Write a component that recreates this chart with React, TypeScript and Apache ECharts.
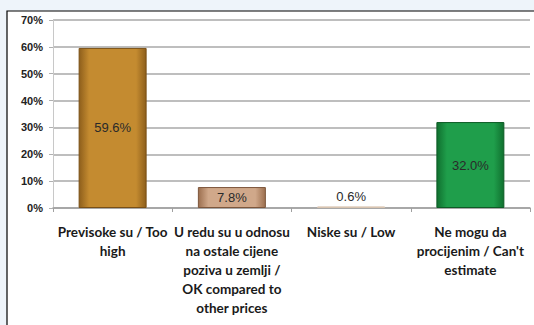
import React, { useEffect, useRef } from "react";
import * as echarts from "echarts";

const categories = [
  "Previsoke su / Too\nhigh",
  "U redu su u odnosu\nna ostale cijene\npoziva u zemlji /\nOK compared to\nother prices",
  "Niske su / Low",
  "Ne mogu da\nprocijenim / Can't\nestimate",
];
const values = [59.6, 7.8, 0.6, 32.0];
const yTicks = [0, 10, 20, 30, 40, 50, 60, 70];

const grad = (edge: string, mid: string) =>
  new echarts.graphic.LinearGradient(0, 0, 1, 0, [
    { offset: 0, color: edge },
    { offset: 0.15, color: mid },
    { offset: 0.85, color: mid },
    { offset: 1, color: edge },
  ]);

export default function App() {
  const ref = useRef<HTMLDivElement>(null);
  useEffect(() => {
    document.body.style.margin = "0";
    const chart = echarts.init(ref.current!, null, { renderer: "svg" });
    const styles = [
      { color: grad("#8e5f1c", "#c48b30"), borderColor: "#7a4f14" },
      { color: grad("#9c6f4f", "#d0a88a"), borderColor: "#7d563b" },
      { color: "#e8d8c8", borderColor: "#d8c4b0" },
      { color: grad("#10702f", "#1f9e4b"), borderColor: "#0c5c25" },
    ];
    const positions = ["inside", "inside", "top", "inside"];
    chart.setOption({
      animation: false,
      backgroundColor: "#eef4fa",
      graphic: [
        {
          type: "rect",
          shape: { x: 7, y: 11, width: 540, height: 330 },
          style: { fill: "#ffffff", stroke: "#000000", lineWidth: 1.2 },
          z: -10,
        },
      ],
      grid: { left: 53, right: 4, top: 20, bottom: 117 },
      xAxis: {
        type: "category",
        data: categories,
        axisLine: { show: true, lineStyle: { color: "#a0a0a0", width: 1.5 } },
        axisTick: { show: true, length: 4, lineStyle: { color: "#a0a0a0" } },
        axisLabel: {
          interval: 0,
          color: "#1a1a1a",
          fontFamily: "Lato",
          fontSize: 13.5,
          fontWeight: "bold",
          lineHeight: 19,
          margin: 14,
        },
      },
      yAxis: {
        type: "value",
        min: 0,
        max: 70,
        interval: 10,
        axisLine: { show: true, lineStyle: { color: "#c8c8c8" } },
        axisTick: { show: true, length: 4, lineStyle: { color: "#b0b0b0" } },
        splitLine: { lineStyle: { color: "#a8a8a8", width: 1.6 } },
        axisLabel: {
          formatter: (v: number) => (yTicks.includes(v) ? v + "%" : ""),
          color: "#222",
          fontFamily: "Liberation Sans",
          fontSize: 11,
          fontWeight: "bold",
          margin: 10,
        },
      },
      series: [
        {
          type: "bar",
          barWidth: "57%",
          data: values.map((v, i) => ({
            value: v,
            itemStyle: { ...styles[i], borderWidth: 1 },
            label: { position: positions[i] },
          })),
          label: {
            show: true,
            formatter: (p: any) => p.value.toFixed(1) + "%",
            color: "#2a2a2a",
            fontFamily: "Liberation Sans",
            fontSize: 13,
            distance: 3,
          },
        },
      ],
    });
    return () => chart.dispose();
  }, []);
  return <div ref={ref} style={{ width: 534, height: 325 }} />;
}
